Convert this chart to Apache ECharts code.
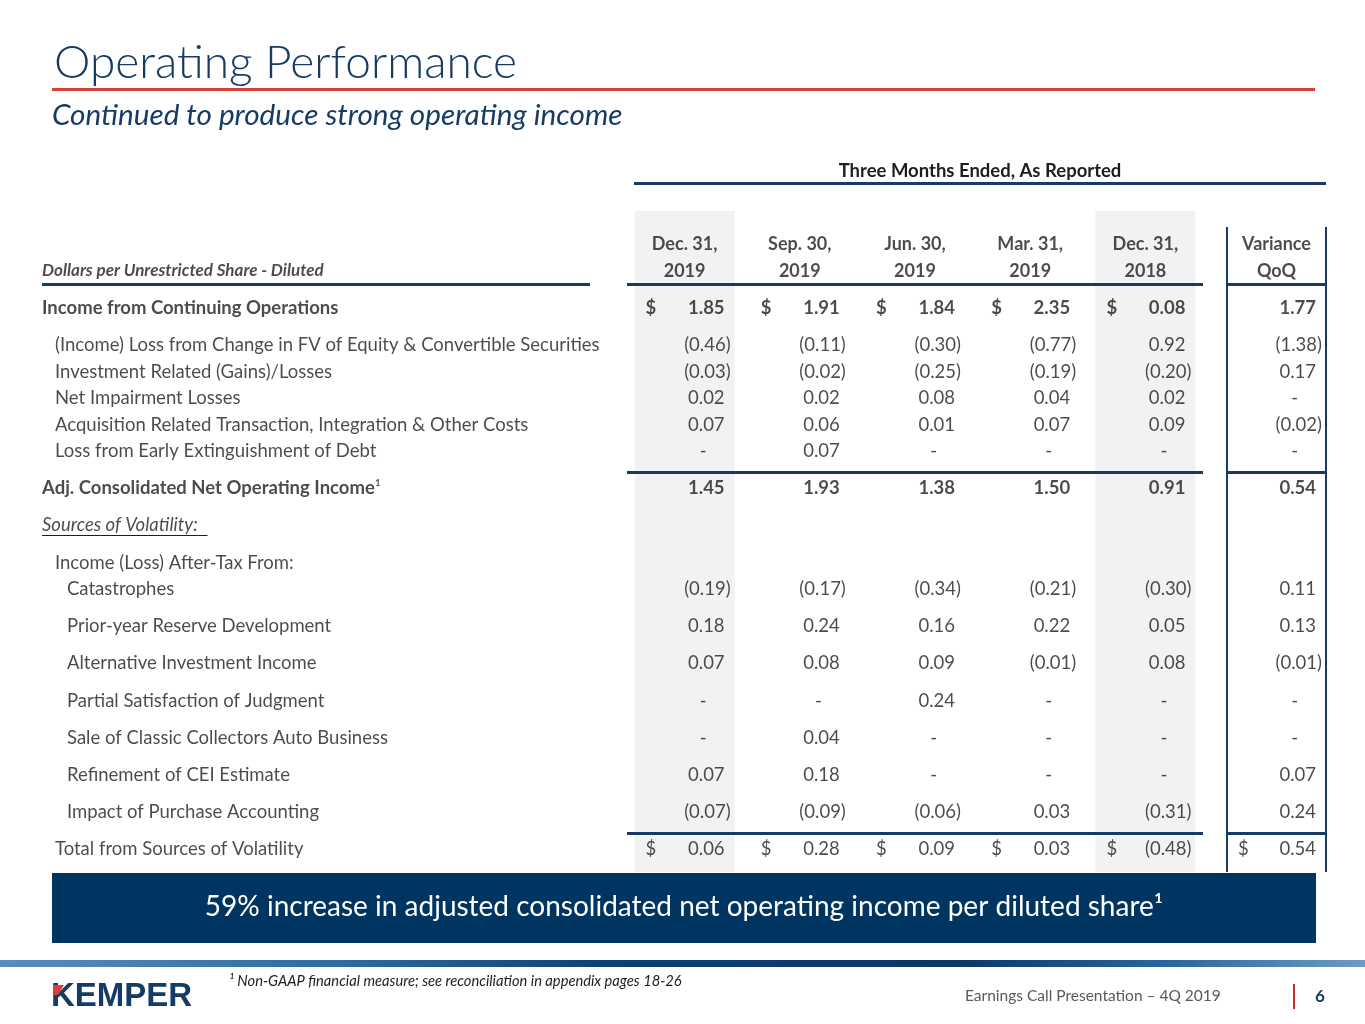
<!DOCTYPE html>
<html>
<head>
<meta charset="utf-8">
<title>Operating Performance</title>
<script src="https://cdn.jsdelivr.net/npm/echarts@6/dist/echarts.min.js"></script>
<style>
  html, body { margin: 0; padding: 0; background: #fff; }
  #chart { width: 1365px; height: 1024px; }
</style>
</head>
<body>
<div id="chart"></div>
<script>
// column headers
const quarterEnds = ['Dec. 31,', 'Sep. 30,', 'Jun. 30,', 'Mar. 31,', 'Dec. 31,'];
const quarterYears = ['2019', '2019', '2019', '2019', '2018'];
const varianceHeader = ['Variance', 'QoQ'];

// row labels, top to bottom
const rowLabels = [
  'Income from Continuing Operations',
  '(Income) Loss from Change in FV of Equity & Convertible Securities',
  'Investment Related (Gains)/Losses',
  'Net Impairment Losses',
  'Acquisition Related Transaction, Integration & Other Costs',
  'Loss from Early Extinguishment of Debt',
  'Adj. Consolidated Net Operating Income',
  'Sources of Volatility:',
  'Income (Loss) After-Tax From:',
  'Catastrophes',
  'Prior-year Reserve Development',
  'Alternative Investment Income',
  'Partial Satisfaction of Judgment',
  'Sale of Classic Collectors Auto Business',
  'Refinement of CEI Estimate',
  'Impact of Purchase Accounting',
  'Total from Sources of Volatility'
];

// dollars per diluted share; '-' = printed dash, null = empty cell
const dec2019 = [1.85, -0.46, -0.03, 0.02, 0.07, '-', 1.45, null, null, -0.19, 0.18, 0.07, '-', '-', 0.07, -0.07, 0.06];
const sep2019 = [1.91, -0.11, -0.02, 0.02, 0.06, 0.07, 1.93, null, null, -0.17, 0.24, 0.08, '-', 0.04, 0.18, -0.09, 0.28];
const jun2019 = [1.84, -0.30, -0.25, 0.08, 0.01, '-', 1.38, null, null, -0.34, 0.16, 0.09, 0.24, '-', '-', -0.06, 0.09];
const mar2019 = [2.35, -0.77, -0.19, 0.04, 0.07, '-', 1.50, null, null, -0.21, 0.22, -0.01, '-', '-', '-', 0.03, 0.03];
const dec2018 = [0.08, 0.92, -0.20, 0.02, 0.09, '-', 0.91, null, null, -0.30, 0.05, 0.08, '-', '-', '-', -0.31, -0.48];
const varianceQoQ = [1.77, -1.38, 0.17, '-', -0.02, '-', 0.54, null, null, 0.11, 0.13, -0.01, '-', '-', 0.07, 0.24, 0.54];

// ---- layout / style ----
const NAVY = '#163b64';
const TEXT = '#1e1e1e';
const FONT = 'Lato, "Open Sans", sans-serif';
const FS = 18.5;
const ROW_KIND = ['head', 'item', 'item', 'item', 'item', 'item', 'head', 'note', 'item',
  'sub', 'sub', 'sub', 'sub', 'sub', 'sub', 'sub', 'item'];
const INDENT = { head: 0, note: 0, item: 13, sub: 25 };
const FOOTNOTE_ROWS = [6];
const DOLLAR_ROWS = [0, 16];
const VAR_DOLLAR_ROWS = [16];
const SHADED_COLS = [0, 4];

// vertical spacing in row units
const TIGHT = 1, LOOSE = 1.4, PAD = 1.25;
const TIGHT_ROWS = new Set([2, 3, 4, 5, 9]);
const headY1 = PAD, headY2 = PAD + TIGHT;
const rowY = [];
rowLabels.forEach((_, i) => {
  const prev = i === 0 ? headY2 : rowY[i - 1];
  rowY.push(prev + (TIGHT_ROWS.has(i) ? TIGHT : LOOSE));
});
const Y_MAX = rowY[rowY.length - 1] + 0.86;
const GRID_TOP = 211, GRID_H = 661;

function fmt(v) {
  if (v === '-') return '-{dpad| }';
  if (v < 0) return '(' + Math.abs(v).toFixed(2) + ')';
  return v.toFixed(2) + '{pad| }';
}

const baseLabel = {
  show: true, position: 'inside', fontFamily: FONT, fontSize: FS, color: TEXT,
  rich: { pad: { width: 6 }, dpad: { width: 24 } }
};

function textSeries(name, grid, items, label) {
  const texts = items.map(d => d.text);
  return {
    name, type: 'scatter', xAxisIndex: grid, yAxisIndex: grid, silent: true, clip: false,
    symbolSize: 1, itemStyle: { color: 'transparent' }, z: 5,
    data: items.map(d => ({ value: d.value, label: d.label || {} })),
    label: Object.assign({}, baseLabel, label, { formatter: p => texts[p.dataIndex] })
  };
}

const ruleStyle = { color: NAVY, width: 3, type: 'solid' };
const ruleYs = [headY2 + 0.5, rowY[5] + 0.8, rowY[15] + 0.8];
const boldIf = r => ROW_KIND[r] === 'head' ? 'bold' : 'normal';

// row labels
const labelItems = rowLabels.map((t, r) => {
  const kind = ROW_KIND[r];
  return {
    value: [0, rowY[r]],
    text: t + (FOOTNOTE_ROWS.includes(r) ? '{sup|¹}' : ''),
    label: {
      offset: [INDENT[kind], 0],
      fontWeight: boldIf(r),
      fontStyle: kind === 'note' ? 'italic' : 'normal'
    }
  };
});
labelItems.push({
  value: [0, headY2], text: 'Dollars per Unrestricted Share - Diluted',
  label: { fontWeight: 'bold', fontStyle: 'italic', fontSize: 17 }
});

// quarter cells
const quarterCols = [dec2019, sep2019, jun2019, mar2019, dec2018];
const quarterItems = [], quarterDollars = [], quarterHeads = [];
quarterCols.forEach((col, c) => {
  col.forEach((v, r) => {
    if (v === null) return;
    quarterItems.push({ value: [c, rowY[r]], text: fmt(v), label: { fontWeight: boldIf(r) } });
  });
  DOLLAR_ROWS.forEach(r => quarterDollars.push({
    value: [c, rowY[r]], text: '$', label: { fontWeight: boldIf(r) }
  }));
  quarterHeads.push({ value: [c, headY1], text: quarterEnds[c] });
  quarterHeads.push({ value: [c, headY2], text: quarterYears[c] });
});

// variance cells
const varItems = [];
varianceQoQ.forEach((v, r) => {
  if (v === null) return;
  varItems.push({ value: [1, rowY[r]], text: fmt(v), label: { fontWeight: boldIf(r) } });
});
const varDollars = VAR_DOLLAR_ROWS.map(r => ({ value: [0, rowY[r]], text: '$' }));
const varHeads = [
  { value: [0.5, headY1], text: varianceHeader[0] },
  { value: [0.5, headY2], text: varianceHeader[1] }
];

const yAxis = [0, 1, 2].map(i => ({ type: 'value', gridIndex: i, inverse: true, min: 0, max: Y_MAX, show: false }));

const chart = echarts.init(document.getElementById('chart'));
chart.setOption({
  backgroundColor: '#fff',
  animation: false,
  grid: [
    { left: 42, top: GRID_TOP, width: 548, height: GRID_H },
    { left: 627, top: GRID_TOP, width: 576, height: GRID_H },
    { left: 1227, top: GRID_TOP, width: 99, height: GRID_H }
  ],
  xAxis: [
    { type: 'value', gridIndex: 0, min: 0, max: 1, show: false },
    { type: 'category', gridIndex: 1, data: quarterEnds.map((e, i) => e + ' ' + quarterYears[i]), show: false },
    { type: 'value', gridIndex: 2, min: 0, max: 1, show: false }
  ],
  yAxis,
  series: [
    {
      name: 'shade', type: 'bar', xAxisIndex: 1, yAxisIndex: 1, silent: true, barWidth: 100, z: 1,
      itemStyle: { color: '#f2f2f2' },
      data: quarterCols.map((_, c) => SHADED_COLS.includes(c) ? Y_MAX : '-'),
      markLine: {
        silent: true, symbol: 'none', label: { show: false }, lineStyle: ruleStyle,
        data: ruleYs.map(y => ({ yAxis: y }))
      }
    },
    Object.assign(textSeries('labels', 0, labelItems, { align: 'left', rich: Object.assign({}, baseLabel.rich, { sup: { fontWeight: 'normal', fontSize: FS } }) }), {
      markLine: {
        silent: true, symbol: 'none', label: { show: false },
        data: [
          [{ coord: [0, headY2 + 0.5], lineStyle: ruleStyle }, { coord: [1, headY2 + 0.5] }],
          [{ coord: [0, rowY[7] + 0.36], lineStyle: { color: TEXT, width: 1, type: 'solid' } }, { coord: [0.302, rowY[7] + 0.36] }]
        ]
      }
    }),
    textSeries('quarters', 1, quarterItems, { align: 'right', offset: [46, 0] }),
    textSeries('quarterDollars', 1, quarterDollars, { align: 'left', offset: [-39, 0] }),
    textSeries('quarterHeads', 1, quarterHeads, { align: 'center', fontWeight: 'bold', fontSize: 18 }),
    Object.assign(textSeries('variance', 2, varItems, { align: 'right', offset: [-4, 0] }), {
      markLine: {
        silent: true, symbol: 'none', label: { show: false }, lineStyle: ruleStyle,
        data: ruleYs.map(y => [{ coord: [0, y] }, { coord: [1, y] }]).concat([
          [{ coord: [0, 0.6], lineStyle: { color: NAVY, width: 2, type: 'solid' } }, { coord: [0, Y_MAX] }],
          [{ coord: [1, 0.6], lineStyle: { color: NAVY, width: 2, type: 'solid' } }, { coord: [1, Y_MAX] }]
        ])
      }
    }),
    textSeries('varianceDollars', 2, varDollars, { align: 'left', offset: [11, 0] }),
    textSeries('varianceHeads', 2, varHeads, { align: 'center', fontWeight: 'bold', fontSize: 18 })
  ],
  graphic: [
    { type: 'text', x: 54, y: 63, style: { text: 'Operating Performance', font: '300 46px Lato', fill: NAVY, verticalAlign: 'middle' } },
    { type: 'rect', shape: { x: 52, y: 88, width: 1263, height: 3 }, style: { fill: '#d8413a' } },
    { type: 'text', x: 52, y: 115, style: { text: 'Continued to produce strong operating income', font: 'italic 29.7px Lato', fill: NAVY, verticalAlign: 'middle' } },
    { type: 'text', x: 980, y: 171, style: { text: 'Three Months Ended, As Reported', font: 'bold 18.5px Lato', fill: TEXT, align: 'center', verticalAlign: 'middle' } },
    { type: 'rect', shape: { x: 634, y: 182, width: 692, height: 3 }, style: { fill: NAVY } },
    { type: 'rect', shape: { x: 52, y: 873, width: 1264, height: 70 }, style: { fill: '#003461' } },
    { type: 'text', x: 684, y: 907, style: { text: '59% increase in adjusted consolidated net operating income per diluted share¹', font: '28px Lato', fill: '#fff', align: 'center', verticalAlign: 'middle' } },
    {
      type: 'rect', shape: { x: 0, y: 960, width: 1365, height: 7 },
      style: {
        fill: new echarts.graphic.LinearGradient(0, 0, 1, 0, [
          { offset: 0, color: '#5a8dbd' }, { offset: 0.25, color: '#2f6aa1' },
          { offset: 0.45, color: '#0f3f72' }, { offset: 0.7, color: '#0b3867' },
          { offset: 0.85, color: '#2a649c' }, { offset: 1, color: '#6f9cc6' }
        ])
      }
    },
    { type: 'text', x: 229, y: 981, style: { text: '¹ Non-GAAP financial measure; see reconciliation in appendix pages 18-26', font: 'italic 14.7px Lato', fill: TEXT, verticalAlign: 'middle' } },
    { type: 'text', x: 51, y: 997, style: { text: 'KEMPER', font: 'bold 33px "Liberation Sans"', fill: NAVY, verticalAlign: 'middle' } },
    { type: 'polygon', shape: { points: [[53, 985], [64, 985], [58, 995], [53, 995]] }, style: { fill: '#d8413a' } },
    { type: 'text', x: 965, y: 996, style: { text: 'Earnings Call Presentation – 4Q 2019', font: '15.5px Lato', fill: '#595959', verticalAlign: 'middle' } },
    { type: 'rect', shape: { x: 1293, y: 984, width: 2, height: 25 }, style: { fill: '#c9302c' } },
    { type: 'text', x: 1320, y: 997, style: { text: '6', font: 'bold 17px Lato', fill: NAVY, align: 'center', verticalAlign: 'middle' } }
  ]
});
</script>
</body>
</html>
